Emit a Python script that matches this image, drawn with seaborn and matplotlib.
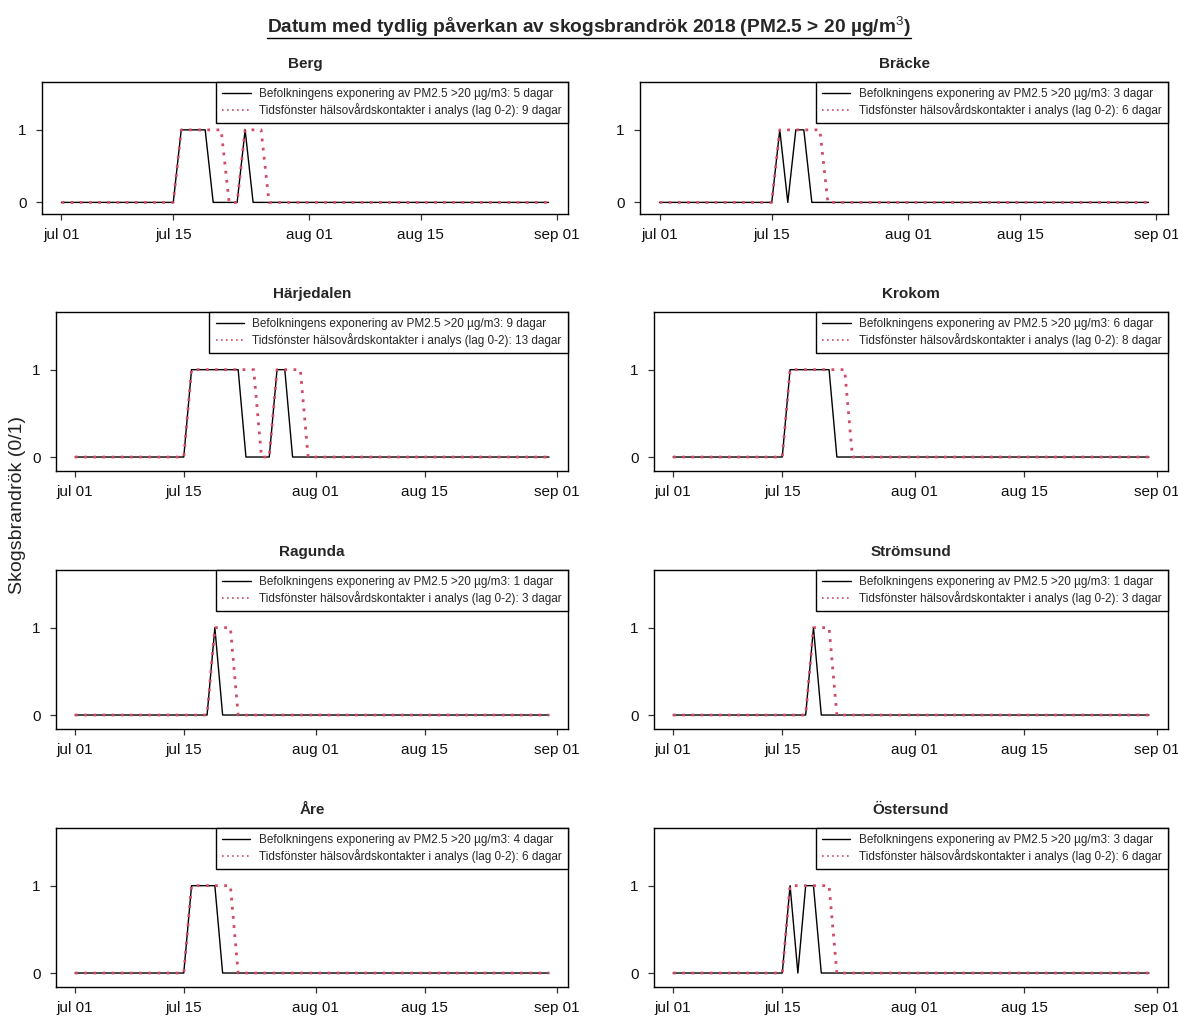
import matplotlib
matplotlib.use("Agg")
import matplotlib.pyplot as plt
import pandas as pd
import seaborn as sns
from matplotlib.lines import Line2D

sns.set_style("ticks")
plt.rcParams['font.family'] = ['Liberation Sans', 'DejaVu Sans']
plt.rcParams['mathtext.fontset'] = 'custom'
plt.rcParams['mathtext.rm'] = 'Liberation Sans'
plt.rcParams['mathtext.bf'] = 'Liberation Sans:bold'

# Days in July 2018 with PM2.5 > 20 ug/m3 (exposure) and lag 0-2 window
berg_exp = [16, 17, 18, 19, 24]
berg_win = [16, 17, 18, 19, 20, 21, 24, 25, 26]
bracke_exp = [16, 18, 19]
bracke_win = [16, 17, 18, 19, 20, 21]
harjedalen_exp = [16, 17, 18, 19, 20, 21, 22, 27, 28]
harjedalen_win = [16, 17, 18, 19, 20, 21, 22, 23, 24, 27, 28, 29, 30]
krokom_exp = [16, 17, 18, 19, 20, 21]
krokom_win = [16, 17, 18, 19, 20, 21, 22, 23]
ragunda_exp = [19]
ragunda_win = [19, 20, 21]
stromsund_exp = [19]
stromsund_win = [19, 20, 21]
are_exp = [16, 17, 18, 19]
are_win = [16, 17, 18, 19, 20, 21]
ostersund_exp = [16, 18, 19]
ostersund_win = [16, 17, 18, 19, 20, 21]

municipalities = ['Berg', 'Bräcke', 'Härjedalen', 'Krokom',
                  'Ragunda', 'Strömsund', 'Åre', 'Östersund']
exp_lists = [berg_exp, bracke_exp, harjedalen_exp, krokom_exp,
             ragunda_exp, stromsund_exp, are_exp, ostersund_exp]
win_lists = [berg_win, bracke_win, harjedalen_win, krokom_win,
             ragunda_win, stromsund_win, are_win, ostersund_win]

tick_dates = pd.to_datetime(['2018-07-01', '2018-07-15', '2018-08-01', '2018-08-15', '2018-09-01'])
tick_labels = ['jul 01', 'jul 15', 'aug 01', 'aug 15', 'sep 01']

period = pd.date_range('2018-07-01', '2018-08-31', freq='D')
red = '#D24B66'

W, H = 1178, 1016
fig = plt.figure(figsize=(W / 100, H / 100), dpi=100)

# panel boxes in pixels: (left, right, top, bottom)
boxes = [
    (42, 568, 82, 214), (640, 1168, 82, 214),
    (56, 568, 312, 471), (654, 1168, 312, 471),
    (56, 568, 570, 729), (654, 1168, 570, 729),
    (56, 568, 828, 987), (654, 1168, 828, 987),
]

pad = (period[-1] - period[0]) * 0.04

for name, exp, win, (l, r, t, b) in zip(municipalities, exp_lists, win_lists, boxes):
    ax = fig.add_axes([l / W, 1 - b / H, (r - l) / W, (b - t) / H])
    df = pd.DataFrame({
        'datum': period,
        'exp': [1 if (d.month == 7 and d.day in exp) else 0 for d in period],
        'win': [1 if (d.month == 7 and d.day in win) else 0 for d in period],
    })
    sns.lineplot(data=df, x='datum', y='exp', ax=ax, color='black', lw=1.0)
    sns.lineplot(data=df, x='datum', y='win', ax=ax, color=red, lw=2.0,
                 linestyle=(0, (1, 2.3)))
    ax.set_xlim(period[0] - pad, period[-1] + pad)
    ax.set_ylim(-0.16, 1.66)
    ax.set_yticks([0, 1])
    ax.set_yticklabels(['0', '1'])
    ax.set_xticks(tick_dates)
    ax.set_xticklabels(tick_labels)
    ax.set_xlabel('')
    ax.set_ylabel('')
    ax.tick_params(axis='both', length=4, width=0.9, labelsize=11, color='#333333',
                   labelcolor='#111111')
    ax.tick_params(axis='x', pad=6)
    ax.tick_params(axis='y', pad=7)
    for sp in ax.spines.values():
        sp.set_color('black')
        sp.set_linewidth(1.0)
    ax.set_title(name, fontsize=11, fontweight='bold', pad=10)
    handles = [Line2D([], [], color='black', lw=1.0),
               Line2D([], [], color=red, lw=1.2, linestyle=(0, (1, 2)))]
    labels = [f'Befolkningens exponering av PM2.5 >20 µg/m3: {len(exp)} dagar',
              f'Tidsfönster hälsovårdskontakter i analys (lag 0-2): {len(win)} dagar']
    leg = ax.legend(handles, labels, loc='upper right', borderaxespad=0,
                    fontsize=8.5, frameon=True, fancybox=False, framealpha=1,
                    edgecolor='black', handlelength=2.4, handletextpad=0.7,
                    borderpad=0.55, labelspacing=0.2)
    leg.get_frame().set_linewidth(1.0)

fig.text(0.015, 0.503, 'Skogsbrandrök (0/1)', rotation=90, va='center', ha='center',
         fontsize=14, color='#222222')

title = fig.text(0.5, 1 - 27 / H, r'Datum med tydlig påverkan av skogsbrandrök 2018 (PM2.5 > 20 µg/m$^{3}$)',
                 ha='center', va='center', fontsize=13.8, fontweight='bold')

# underline the main title
fig.canvas.draw()
bb = title.get_window_extent().transformed(fig.transFigure.inverted())
fig.add_artist(Line2D([bb.x0, bb.x1], [bb.y0 + 0.001, bb.y0 + 0.001],
                      transform=fig.transFigure, color='black', lw=1.0))

fig.savefig('out.png', dpi=100)
